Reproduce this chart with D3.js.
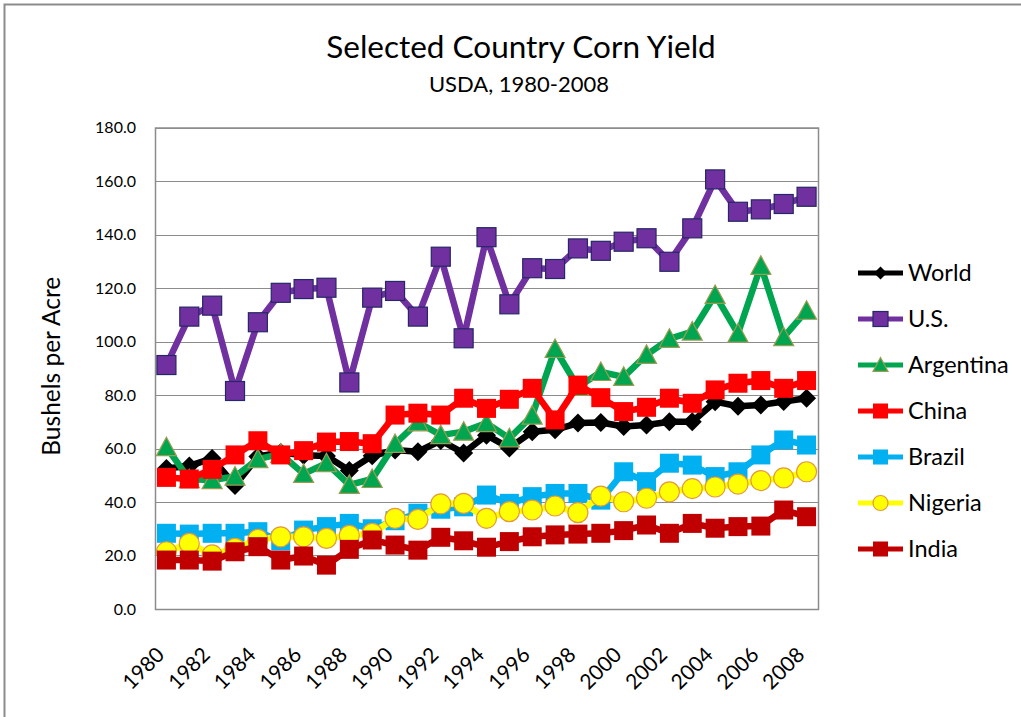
<!DOCTYPE html>
<html>
<head>
<meta charset="utf-8">
<script src="https://cdn.jsdelivr.net/npm/d3@7"></script>
<style>
  html, body { margin: 0; padding: 0; background: #fff; }
  svg { display: block; font-family: Lato, "Open Sans", sans-serif; }
</style>
</head>
<body>
<div id="chart"></div>
<script>
const years = [1980, 1981, 1982, 1983, 1984, 1985, 1986, 1987, 1988, 1989,
  1990, 1991, 1992, 1993, 1994, 1995, 1996, 1997, 1998, 1999,
  2000, 2001, 2002, 2003, 2004, 2005, 2006, 2007, 2008];

const world = [52.5, 53.5, 56.3, 46.2, 57, 58.5, 57.5, 57.2, 51.8, 57.3,
  59.4, 58.8, 63, 58.3, 65, 60.2, 66.3, 67, 69.5, 69.7,
  68.2, 68.8, 70, 70, 77.5, 75.8, 76.3, 77.6, 78.8];
const us = [91.2, 109.3, 113.4, 81.5, 107.2, 118.2, 119.6, 120.1, 84.7, 116.4,
  118.9, 109.3, 131.7, 101.2, 139, 113.9, 127.4, 127.1, 134.8, 133.9,
  137.3, 138.6, 129.8, 142.3, 160.6, 148.5, 149.4, 151.4, 154.1];
const argentina = [60.5, 48.5, 48.2, 49.5, 56, 58, 50.5, 54.5, 46.4, 48.6,
  61.7, 69.8, 65, 66.3, 69.5, 63.8, 72.3, 97.2, 83, 88.6,
  86.8, 95, 101, 103.7, 117.4, 103, 128.3, 101.6, 111.5];
const china = [49.2, 48.6, 52.2, 57.6, 62.9, 57.6, 59.2, 62.4, 62.6, 61.8,
  72.5, 73.2, 72.5, 78.8, 75, 78.4, 82.5, 70.7, 83.7, 79,
  73.8, 75.4, 78.8, 76.9, 81.9, 84.4, 85.4, 82.5, 85.4];
const brazil = [28.3, 28, 28.3, 28.3, 28.9, 25.5, 29.5, 30.8, 32, 30,
  33, 35.8, 37.3, 38.2, 42.6, 39.5, 42, 43.2, 43.2, 40.7,
  51.3, 47.6, 54.5, 53.8, 49.5, 51.3, 57.6, 63.2, 61.3];
const nigeria = [21.4, 24.5, 20.2, 22.7, 26, 27, 27, 26.4, 27.5, 28.3,
  33.9, 33.5, 39.3, 39.5, 33.9, 36.4, 37, 38.5, 36, 42.2,
  40.1, 41.4, 43.8, 45, 45.6, 46.7, 48, 49, 51.3];
const india = [18.3, 18.3, 17.9, 21.4, 23.3, 18.3, 19.8, 16.4, 22.3, 25.8,
  23.9, 22, 26.8, 25.5, 23.1, 25.2, 27, 27.7, 28, 28.3,
  29.3, 31.4, 28.3, 32, 30.2, 30.8, 31, 37, 34.5];

const yTicks = [0, 20, 40, 60, 80, 100, 120, 140, 160, 180];
const xTickYears = [1980, 1982, 1984, 1986, 1988, 1990, 1992, 1994, 1996, 1998,
  2000, 2002, 2004, 2006, 2008];

// series in Excel draw order (later ones on top)
const series = [
  { name: "World", values: world, color: "#000000", marker: "diamond", fill: "#000000", stroke: "none" },
  { name: "U.S.", values: us, color: "#7030A0", marker: "square", fill: "#7030A0", stroke: "#262766" },
  { name: "Argentina", values: argentina, color: "#00A550", marker: "triangle", fill: "#00A550", stroke: "#9C9C50" },
  { name: "China", values: china, color: "#FF0000", marker: "square", fill: "#FF0000", stroke: "none" },
  { name: "Brazil", values: brazil, color: "#00B0F0", marker: "square", fill: "#00B0F0", stroke: "none" },
  { name: "Nigeria", values: nigeria, color: "#FFFF00", marker: "circle", fill: "#FFFF00", stroke: "#E39A3A" },
  { name: "India", values: india, color: "#C00000", marker: "square", fill: "#C00000", stroke: "none" }
];

const width = 1021, height = 717;
const plot = { left: 155, right: 818, top: 127.5, bottom: 609 };

const svg = d3.select("#chart").append("svg")
  .attr("width", width)
  .attr("height", height);

// outer chart border
svg.append("rect")
  .attr("x", 4.5).attr("y", 4.5)
  .attr("width", 1100).attr("height", 900)
  .attr("fill", "none")
  .attr("stroke", "#8c8c8c")
  .attr("stroke-width", 2);

const x = d3.scaleBand()
  .domain(years)
  .range([plot.left, plot.right])
  .padding(0);
const cx = d => x(d) + x.bandwidth() / 2;

const y = d3.scaleLinear()
  .domain([0, 180])
  .range([plot.bottom, plot.top]);

// gridlines
svg.append("g")
  .selectAll("line")
  .data(yTicks)
  .join("line")
  .attr("x1", plot.left).attr("x2", plot.right)
  .attr("y1", d => Math.round(y(d)) + 0.5)
  .attr("y2", d => Math.round(y(d)) + 0.5)
  .attr("stroke", "#8c8c8c")
  .attr("stroke-width", 1);

// plot area border
svg.append("rect")
  .attr("x", plot.left + 0.5).attr("y", plot.top + 0.5)
  .attr("width", plot.right - plot.left)
  .attr("height", plot.bottom - plot.top)
  .attr("fill", "none")
  .attr("stroke", "#8c8c8c")
  .attr("stroke-width", 1.5);

// y axis labels
const yAxis = d3.axisLeft(y)
  .tickValues(yTicks)
  .tickFormat(d3.format(".1f"))
  .tickSize(0)
  .tickPadding(19);
svg.append("g")
  .attr("transform", `translate(${plot.left},0)`)
  .call(yAxis)
  .call(g => g.select(".domain").remove())
  .selectAll("text")
  .attr("font-family", "Lato, sans-serif")
  .attr("font-size", 16)
  .attr("fill", "#000");

// x axis labels, rotated
svg.append("g")
  .selectAll("text")
  .data(xTickYears)
  .join("text")
  .attr("transform", d => `translate(${cx(d) - 6},${plot.bottom + 42}) rotate(-45)`)
  .attr("text-anchor", "end")
  .attr("dy", "0.35em")
  .attr("font-size", 21)
  .attr("fill", "#000")
  .text(d => d);

// titles
svg.append("text")
  .attr("x", 521).attr("y", 58)
  .attr("text-anchor", "middle")
  .attr("font-size", 31.5)
  .attr("fill", "#000")
  .text("Selected Country Corn Yield");

svg.append("text")
  .attr("x", 519).attr("y", 92)
  .attr("text-anchor", "middle")
  .attr("font-size", 22)
  .attr("fill", "#000")
  .text("USDA, 1980-2008");

svg.append("text")
  .attr("transform", `translate(60,${(plot.top + plot.bottom) / 2 - 2}) rotate(-90)`)
  .attr("text-anchor", "middle")
  .attr("font-size", 24.5)
  .attr("fill", "#000")
  .text("Bushels per Acre");

// marker drawing helper
const drawMarker = (sel, s, size) => {
  const h = size / 2;
  if (s.marker === "square") {
    sel.append("rect")
      .attr("x", -h).attr("y", -h)
      .attr("width", size).attr("height", size);
  } else if (s.marker === "diamond") {
    sel.append("path")
      .attr("d", `M0,${-h}L${h},0L0,${h}L${-h},0Z`);
  } else if (s.marker === "triangle") {
    sel.append("path")
      .attr("d", `M0,${-h}L${h},${h * 0.85}L${-h},${h * 0.85}Z`);
  } else {
    sel.append("circle").attr("r", h);
  }
  sel.selectAll("*")
    .attr("fill", s.fill)
    .attr("stroke", s.stroke)
    .attr("stroke-width", s.stroke === "none" ? 0 : 1.2);
};

const markerSize = { square: 19, diamond: 19, triangle: 20, circle: 20 };

const line = d3.line()
  .x((d, i) => cx(years[i]))
  .y(d => y(d));

series.forEach(s => {
  const g = svg.append("g");
  g.append("path")
    .datum(s.values)
    .attr("fill", "none")
    .attr("stroke", s.color)
    .attr("stroke-width", 6.5)
    .attr("stroke-linejoin", "round")
    .attr("d", line);

  g.selectAll("g.m")
    .data(s.values)
    .join("g")
    .attr("class", "m")
    .attr("transform", (d, i) => `translate(${cx(years[i])},${y(d)})`)
    .each(function () { drawMarker(d3.select(this), s, markerSize[s.marker]); });
});

// legend
const legend = svg.append("g")
  .selectAll("g")
  .data(series)
  .join("g")
  .attr("transform", (d, i) => `translate(858,${273 + i * 46})`);

legend.append("line")
  .attr("x1", 0).attr("x2", 45)
  .attr("stroke", d => d.color)
  .attr("stroke-width", 5);

legend.append("g")
  .attr("transform", "translate(22.5,0)")
  .each(function (d) { drawMarker(d3.select(this), d, d.marker === "diamond" ? 13 : 15); });

legend.append("text")
  .attr("x", 50)
  .attr("dy", "0.35em")
  .attr("font-size", 23.5)
  .attr("fill", "#000")
  .text(d => d.name);
</script>
</body>
</html>
